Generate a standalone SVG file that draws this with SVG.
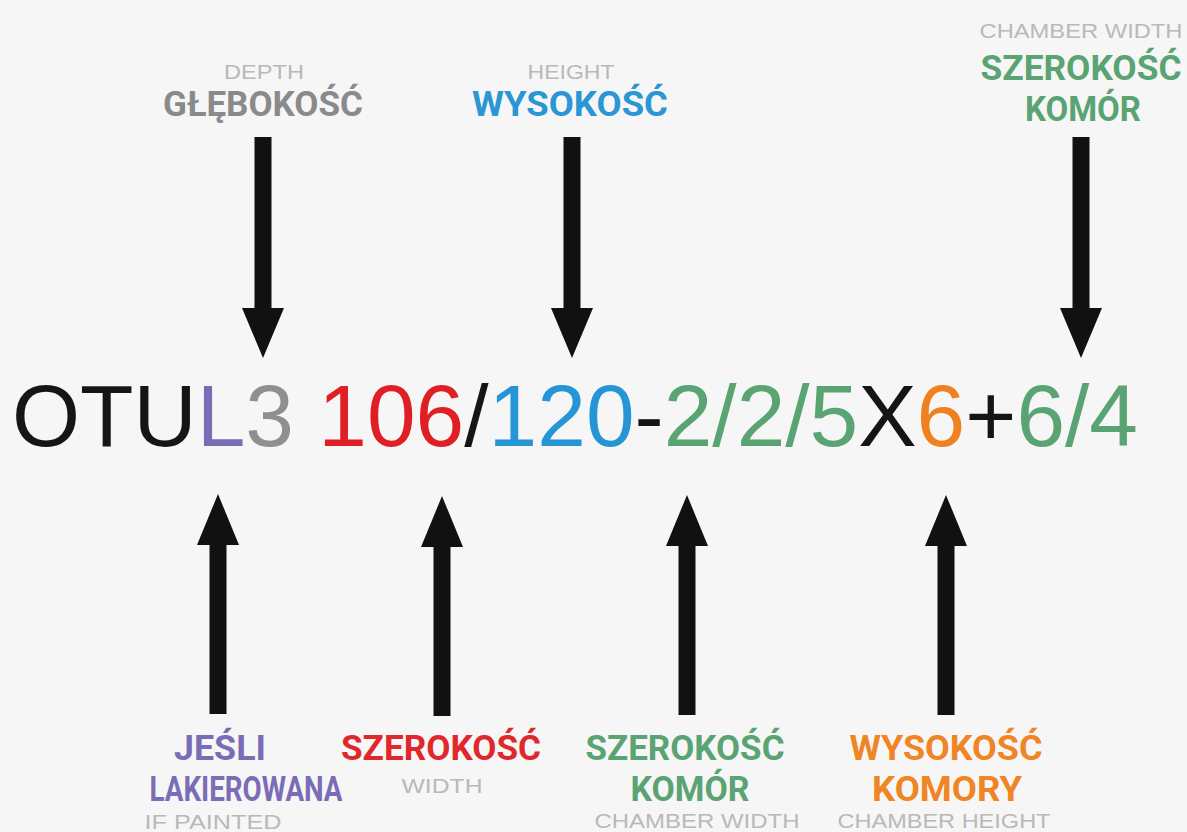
<svg xmlns="http://www.w3.org/2000/svg" width="1187" height="832" viewBox="0 0 1187 832">
<defs>
<style>
.lbl{font-family:Roboto,"DejaVu Sans",sans-serif;font-weight:700;font-size:35px;text-anchor:middle}
.sub{font-family:"Liberation Sans",Arial,sans-serif;font-size:21px;fill:#b9b9b9;text-anchor:middle}
.main{font-family:"Liberation Sans",Arial,sans-serif;font-size:88px}
.arrow{fill:#111}
</style>
<path id="down" d="M-8.5,0 H8.5 V171 H21 L0,221 L-21,171 H-8.5 Z"/>
<path id="up" d="M-8.5,0 H8.5 V-169 H21 L0,-220 L-21,-169 H-8.5 Z"/>
</defs>
<rect width="1187" height="832" fill="#f6f6f6"/>
<g id="code">
<text class="main" x="12" y="446" textLength="1126" lengthAdjust="spacingAndGlyphs"><tspan fill="#151515">OTU</tspan><tspan fill="#7b6cb6">L</tspan><tspan fill="#8f8f8f">3</tspan><tspan fill="#151515"> </tspan><tspan fill="#e01f25">106</tspan><tspan fill="#151515">/</tspan><tspan fill="#2595d6">120</tspan><tspan fill="#151515">-</tspan><tspan fill="#5aa373">2/2/5</tspan><tspan fill="#151515">X</tspan><tspan fill="#ef8121">6</tspan><tspan fill="#151515">+</tspan><tspan fill="#5aa373">6/4</tspan></text>
</g>
<g id="connectors" class="arrow">
<use href="#down" x="263" y="137"/>
<use href="#down" x="572" y="137"/>
<use href="#down" x="1081" y="137"/>
<use href="#up" x="218" y="714"/>
<use href="#up" x="442" y="716"/>
<use href="#up" x="687" y="715"/>
<use href="#up" x="946" y="715"/>
</g>
<g id="depth">
<text class="sub" x="264" y="79" textLength="80" lengthAdjust="spacingAndGlyphs">DEPTH</text>
<text class="lbl" x="263" y="116" fill="#8a8a8a" textLength="200" lengthAdjust="spacingAndGlyphs">GŁĘBOKOŚĆ</text>
</g>
<g id="height">
<text class="sub" x="571" y="79" textLength="87" lengthAdjust="spacingAndGlyphs">HEIGHT</text>
<text class="lbl" x="570" y="116" fill="#2a96d4" textLength="196" lengthAdjust="spacingAndGlyphs">WYSOKOŚĆ</text>
</g>
<g id="chamber-width-top">
<text class="sub" x="1081" y="38" textLength="203" lengthAdjust="spacingAndGlyphs">CHAMBER WIDTH</text>
<text class="lbl" x="1081" y="80" fill="#5aa373" textLength="201" lengthAdjust="spacingAndGlyphs">SZEROKOŚĆ</text>
<text class="lbl" x="1083" y="121" fill="#5aa373" textLength="116" lengthAdjust="spacingAndGlyphs">KOMÓR</text>
</g>
<g id="painted">
<text class="lbl" x="220" y="760" fill="#7b6cb6" textLength="92" lengthAdjust="spacingAndGlyphs">JEŚLI</text>
<text class="lbl" x="246" y="801" fill="#7b6cb6" textLength="193" lengthAdjust="spacingAndGlyphs">LAKIEROWANA</text>
<text class="sub" x="213" y="829" textLength="137" lengthAdjust="spacingAndGlyphs">IF PAINTED</text>
</g>
<g id="width">
<text class="lbl" x="441" y="760" fill="#e0282c" textLength="200" lengthAdjust="spacingAndGlyphs">SZEROKOŚĆ</text>
<text class="sub" x="442" y="793" textLength="81" lengthAdjust="spacingAndGlyphs">WIDTH</text>
</g>
<g id="chamber-width">
<text class="lbl" x="685" y="760" fill="#5aa373" textLength="199" lengthAdjust="spacingAndGlyphs">SZEROKOŚĆ</text>
<text class="lbl" x="690" y="801" fill="#5aa373" textLength="119" lengthAdjust="spacingAndGlyphs">KOMÓR</text>
<text class="sub" x="697" y="828" textLength="205" lengthAdjust="spacingAndGlyphs">CHAMBER WIDTH</text>
</g>
<g id="chamber-height">
<text class="lbl" x="946" y="760" fill="#ef8524" textLength="193" lengthAdjust="spacingAndGlyphs">WYSOKOŚĆ</text>
<text class="lbl" x="947" y="801" fill="#ef8524" textLength="150" lengthAdjust="spacingAndGlyphs">KOMORY</text>
<text class="sub" x="944" y="828" textLength="213" lengthAdjust="spacingAndGlyphs">CHAMBER HEIGHT</text>
</g>
</svg>
